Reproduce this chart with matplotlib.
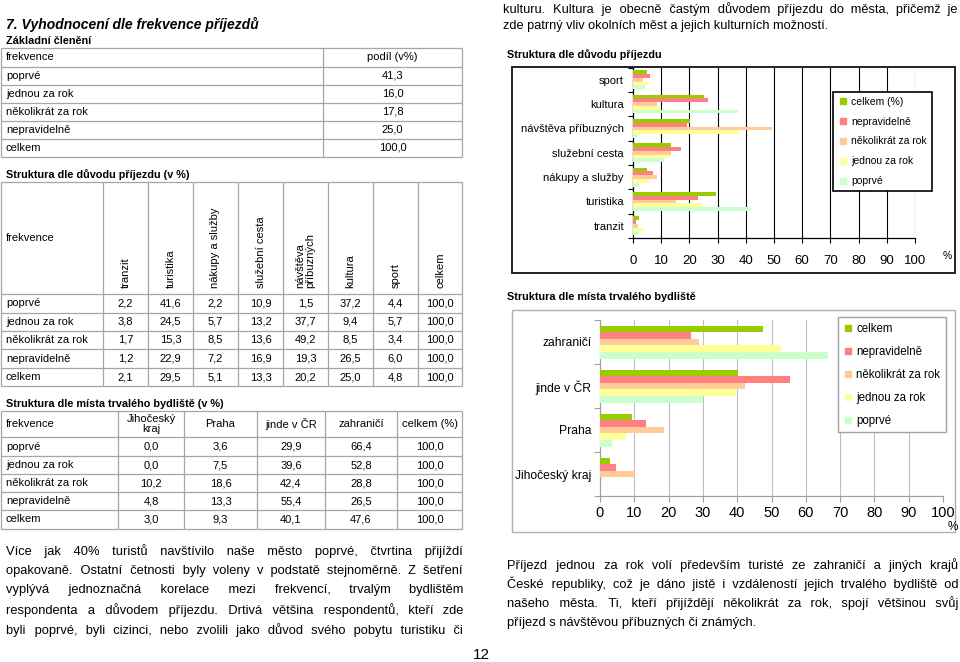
import numpy as np
import matplotlib
matplotlib.use("Agg")
import matplotlib.pyplot as plt
from matplotlib.patches import Rectangle
from matplotlib.lines import Line2D
from matplotlib import font_manager as fm

# ---------------- data ----------------
freq_labels = ["poprvé", "jednou za rok", "několikrát za rok", "nepravidelně", "celkem"]
freq_share = [41.3, 16.0, 17.8, 25.0, 100.0]

reasons = ["tranzit", "turistika", "nákupy a služby", "služební cesta",
           "návštěva příbuzných", "kultura", "sport"]
reason_headers = ["tranzit", "turistika", "nákupy a služby", "služební cesta",
                  "návštěva\npříbuzných", "kultura", "sport", "celkem"]
r_poprve = [2.2, 41.6, 2.2, 10.9, 1.5, 37.2, 4.4]
r_jednou = [3.8, 24.5, 5.7, 13.2, 37.7, 9.4, 5.7]
r_nekolik = [1.7, 15.3, 8.5, 13.6, 49.2, 8.5, 3.4]
r_neprav = [1.2, 22.9, 7.2, 16.9, 19.3, 26.5, 6.0]
r_celkem = [2.1, 29.5, 5.1, 13.3, 20.2, 25.0, 4.8]
row_total = 100.0

places = ["Jihočeský kraj", "Praha", "jinde v ČR", "zahraničí"]
place_headers = ["Jihočeský\nkraj", "Praha", "jinde v ČR", "zahraničí", "celkem (%)"]
p_poprve = [0.0, 3.6, 29.9, 66.4]
p_jednou = [0.0, 7.5, 39.6, 52.8]
p_nekolik = [10.2, 18.6, 42.4, 28.8]
p_neprav = [4.8, 13.3, 55.4, 26.5]
p_celkem = [3.0, 9.3, 40.1, 47.6]

x_ticks = [0, 10, 20, 30, 40, 50, 60, 70, 80, 90, 100]

c_celkem = "#99cc00"
c_neprav = "#ff8080"
c_nekolik = "#ffcc99"
c_jednou = "#ffff99"
c_poprve = "#ccffcc"

# ---------------- figure ----------------
W, H = 960, 662
fig = plt.figure(figsize=(9.6, 6.62), dpi=100)
page = fig.add_axes([0, 0, 1, 1])
page.set_xlim(0, W)
page.set_ylim(H, 0)
page.axis("off")

SANS = "Liberation Sans"
names = {f.name for f in fm.fontManager.ttflist}
NARROW = "Liberation Sans Narrow" if "Liberation Sans Narrow" in names else SANS
PARA_SIZE = 10.5 if NARROW != SANS else 9.3

def fmt(v):
    return f"{v:.1f}".replace(".", ",")

def fax(x0, y0, x1, y1):
    return fig.add_axes([x0 / W, 1 - y1 / H, (x1 - x0) / W, (y1 - y0) / H])

LC = "#a6a6a6"
def hline(y, x0, x1):
    page.plot([x0, x1], [y, y], color=LC, lw=0.9, solid_capstyle="butt")
def vline(x, y0, y1):
    page.plot([x, x], [y0, y1], color=LC, lw=0.9, solid_capstyle="butt")

TS = 8  # table font size
def ttext(x, y, s, ha="left", **kw):
    page.text(x, y, s, ha=ha, va="center", fontsize=TS, family=SANS, **kw)

# ---------------- headings ----------------
page.text(6, 24, "7. Vyhodnocení dle frekvence příjezdů", fontsize=10, family=SANS,
          weight="bold", style="italic", va="center")
page.text(6, 41, "Základní členění", fontsize=7.8, family=SANS, weight="bold", va="center")

# ---------------- table 1 ----------------
t1_rows = [48, 67, 85, 103, 121, 139, 157]
for y in t1_rows:
    hline(y, 1, 462)
for x in [1, 323, 462]:
    vline(x, 48, 157)
ttext(6, (48 + 67) / 2, "frekvence")
ttext(392.5, (48 + 67) / 2, "podíl (v%)", ha="center")
for i, (lab, v) in enumerate(zip(freq_labels, freq_share)):
    yc = (t1_rows[i + 1] + t1_rows[i + 2]) / 2
    ttext(6, yc, lab)
    ttext(392.5, yc, fmt(v), ha="center")

# ---------------- table 2 ----------------
page.text(6, 175, "Struktura dle důvodu příjezdu (v %)", fontsize=7.8, family=SANS,
          weight="bold", va="center")
xs2 = [1, 103, 148, 193, 238, 283, 328, 373, 418, 462]
t2_rows = [182, 294, 313, 331, 349, 368, 386]
for y in t2_rows:
    hline(y, 1, 462)
for x in xs2:
    vline(x, 182, 386)
ttext(6, 238, "frekvence")
for j, hd in enumerate(reason_headers):
    xc = (xs2[j + 1] + xs2[j + 2]) / 2
    page.text(xc, 288, hd, rotation=90, ha="center", va="bottom", fontsize=TS,
              family=SANS, multialignment="left", linespacing=1.0)
t2_data = [r_poprve, r_jednou, r_nekolik, r_neprav, r_celkem]
for i, (lab, vals) in enumerate(zip(freq_labels, t2_data)):
    yc = (t2_rows[i + 1] + t2_rows[i + 2]) / 2
    ttext(6, yc, lab)
    for j, v in enumerate(list(vals) + [row_total]):
        xc = (xs2[j + 1] + xs2[j + 2]) / 2
        ttext(xc, yc, fmt(v), ha="center")

# ---------------- table 3 ----------------
page.text(6, 404, "Struktura dle místa trvalého bydliště (v %)", fontsize=7.8, family=SANS,
          weight="bold", va="center")
xs3 = [1, 118, 184, 257, 325, 397, 462]
t3_rows = [411, 437, 456, 474, 492, 510, 529]
for y in t3_rows:
    hline(y, 1, 462)
for x in xs3:
    vline(x, 411, 529)
ttext(6, 424, "frekvence")
for j, hd in enumerate(place_headers):
    xc = (xs3[j + 1] + xs3[j + 2]) / 2
    page.text(xc, 424, hd, ha="center", va="center", fontsize=TS, family=SANS,
              linespacing=1.05)
t3_data = [p_poprve, p_jednou, p_nekolik, p_neprav, p_celkem]
for i, (lab, vals) in enumerate(zip(freq_labels, t3_data)):
    yc = (t3_rows[i + 1] + t3_rows[i + 2]) / 2
    ttext(6, yc, lab)
    for j, v in enumerate(list(vals) + [row_total]):
        xc = (xs3[j + 1] + xs3[j + 2]) / 2
        ttext(xc, yc, fmt(v), ha="center")

# ---------------- justified text helper ----------------
renderer = fig.canvas.get_renderer()
HAIR = "\u200a"

def text_width(s, **kw):
    t = page.text(0, 0, s, **kw)
    w = t.get_window_extent(renderer).width
    t.remove()
    return w

def justify(line, x0, x1, y, last=False, fontsize=10, family=SANS):
    kw = dict(fontsize=fontsize, family=[family, "DejaVu Sans"])
    words = line.split(" ")
    s = " ".join(words)
    if not last and len(words) > 1:
        nat = text_width(s, **kw)
        hw = text_width("a" + HAIR * 10 + "a", **kw) - text_width("aa", **kw)
        hw = hw / 10.0
        extra = (x1 - x0) - nat
        ngaps = len(words) - 1
        total_h = max(0, int(round(extra / hw))) if hw > 0 else 0
        base_n, rem = divmod(total_h, ngaps)
        parts = [words[0]]
        for g in range(ngaps):
            k = base_n + (1 if g < rem else 0)
            parts.append(" " + HAIR * k + words[g + 1])
        s = "".join(parts)
    page.text(x0, y, s, ha="left", va="center", **kw)

justify("kulturu. Kultura je obecně častým důvodem příjezdu do města, přičemž je",
        503, 958, 9, fontsize=9.2)
justify("zde patrný vliv okolních měst a jejich kulturních možností.",
        503, 958, 26, last=True, fontsize=9.2)

left_lines = [
    "Více jak 40% turistů navštívilo naše město poprvé, čtvrtina přijíždí",
    "opakovaně. Ostatní četnosti byly voleny v podstatě stejnoměrně. Z šetření",
    "vyplývá jednoznačná korelace mezi frekvencí, trvalým bydlištěm",
    "respondenta a důvodem příjezdu. Drtivá většina respondentů, kteří zde",
    "byli poprvé, byli cizinci, nebo zvolili jako důvod svého pobytu turistiku či",
]
for k, ln in enumerate(left_lines):
    justify(ln, 6, 463, 551 + k * 19.7, fontsize=PARA_SIZE, family=NARROW)
right_lines = [
    "Příjezd jednou za rok volí především turisté ze zahraničí a jiných krajů",
    "České republiky, což je dáno jistě i vzdáleností jejich trvalého bydliště od",
    "našeho města. Ti, kteří přijíždějí několikrát za rok, spojí většinou svůj",
    "příjezd s návštěvou příbuzných či známých.",
]
for k, ln in enumerate(right_lines):
    justify(ln, 507, 958, 565 + k * 19.2, last=(k == len(right_lines) - 1),
            fontsize=PARA_SIZE, family=NARROW)

page.text(481, 655, "12", ha="center", va="center", fontsize=11, family=NARROW)

# ---------------- chart 1 ----------------
page.text(507, 55, "Struktura dle důvodu příjezdu", fontsize=7.8, family=SANS,
          weight="bold", va="center")
page.add_patch(Rectangle((512, 67), 443, 206, fill=False, ec="#222222", lw=1.4))

def draw_bars(ax, cats, series, bh):
    y = np.arange(len(cats))
    n = len(series)
    for i, (vals, color, lab) in enumerate(series):
        off = ((n - 1) / 2 - i) * bh
        ax.barh(y + off, vals, height=bh, color=color, label=lab, zorder=3, lw=0)

ax1 = fax(633, 67.5, 915, 238)
ax1.set_facecolor("none")
series1 = [(r_celkem, c_celkem, "celkem (%)"), (r_neprav, c_neprav, "nepravidelně"),
           (r_nekolik, c_nekolik, "několikrát za rok"), (r_jednou, c_jednou, "jednou za rok"),
           (r_poprve, c_poprve, "poprvé")]
draw_bars(ax1, reasons, series1, 0.155)
ax1.set_xlim(0, 100)
ax1.set_ylim(-0.5, len(reasons) - 0.5)
ax1.set_xticks(x_ticks)
ax1.set_xticklabels([str(t) for t in x_ticks], fontsize=9.5, family=SANS)
ax1.set_yticks(np.arange(-0.5, len(reasons), 1))
ax1.set_yticklabels([])
ax1.set_yticks(np.arange(len(reasons)), minor=True)
ax1.set_yticklabels(reasons, minor=True, fontsize=8, family=SANS)
ax1.tick_params(axis="y", which="minor", length=0, pad=6.5)
ax1.tick_params(axis="y", which="major", length=3.5, width=0.8, color="black")
ax1.tick_params(axis="x", length=3.5, width=0.8, pad=9)
for s in ["top", "right"]:
    ax1.spines[s].set_visible(False)
for s in ["left", "bottom"]:
    ax1.spines[s].set_color("black")
    ax1.spines[s].set_linewidth(0.9)
for t in x_ticks[1:]:
    ax1.axvline(t, color="black", lw=0.8, zorder=1)
ax1.text(947, 256, "%", transform=page.transData, fontsize=7.5, family=SANS,
         ha="center", va="center")
h1 = [Line2D([], [], ls="none", marker="s", ms=4.5, mfc=c, mec=c) for _, c, _ in series1]
leg1 = ax1.legend(h1, [l for _, _, l in series1], loc="upper left",
                  bbox_to_anchor=(833 / W, 1 - 92 / H), bbox_transform=fig.transFigure,
                  borderaxespad=0, fancybox=False, edgecolor="black", framealpha=1,
                  prop=dict(family=SANS, size=7.5), handlelength=1.0, handletextpad=0.3,
                  labelspacing=0.95, borderpad=0.45)
leg1.get_frame().set_linewidth(1.2)

# ---------------- chart 2 ----------------
page.text(507, 297, "Struktura dle místa trvalého bydliště", fontsize=7.8, family=SANS,
          weight="bold", va="center")
page.add_patch(Rectangle((512, 310), 443, 222, fill=False, ec="#b0b0b0", lw=1.0))

ax2 = fax(600, 320, 943, 496)
ax2.set_facecolor("none")
series2 = [(p_celkem, c_celkem, "celkem"), (p_neprav, c_neprav, "nepravidelně"),
           (p_nekolik, c_nekolik, "několikrát za rok"), (p_jednou, c_jednou, "jednou za rok"),
           (p_poprve, c_poprve, "poprvé")]
draw_bars(ax2, places, series2, 0.15)
ax2.set_xlim(0, 100)
ax2.set_ylim(-0.5, len(places) - 0.5)
ax2.set_xticks(x_ticks)
ax2.set_xticklabels([str(t) for t in x_ticks], fontsize=10.5, family=SANS)
ax2.set_yticks(np.arange(-0.5, len(places), 1))
ax2.set_yticklabels([])
ax2.set_yticks(np.arange(len(places)), minor=True)
ax2.set_yticklabels(places, minor=True, fontsize=8.7, family=SANS)
ax2.tick_params(axis="y", which="minor", length=0, pad=6)
ax2.tick_params(axis="y", which="major", length=4, width=0.8, color="#a0a0a0")
ax2.tick_params(axis="x", length=4, width=0.8, color="#a0a0a0", pad=3)
for s in ["top", "right"]:
    ax2.spines[s].set_visible(False)
for s in ["left", "bottom"]:
    ax2.spines[s].set_color("#a0a0a0")
    ax2.spines[s].set_linewidth(0.9)
for t in x_ticks[1:]:
    ax2.axvline(t, color="#c0c0c0", lw=0.8, zorder=1)
ax2.text(953, 527.5, "%", transform=page.transData, fontsize=8.5, family=SANS,
         ha="center", va="center")
h2 = [Line2D([], [], ls="none", marker="s", ms=5, mfc=c, mec=c) for _, c, _ in series2]
leg2 = ax2.legend(h2, [l for _, _, l in series2], loc="upper left",
                  bbox_to_anchor=(838 / W, 1 - 317 / H), bbox_transform=fig.transFigure,
                  borderaxespad=0, fancybox=False, edgecolor="#a0a0a0", framealpha=1,
                  prop=dict(family=SANS, size=8.3), handlelength=0.8, handletextpad=0.3,
                  labelspacing=0.95, borderpad=0.5)
leg2.get_frame().set_linewidth(1.0)

fig.savefig("out.png", dpi=100)
